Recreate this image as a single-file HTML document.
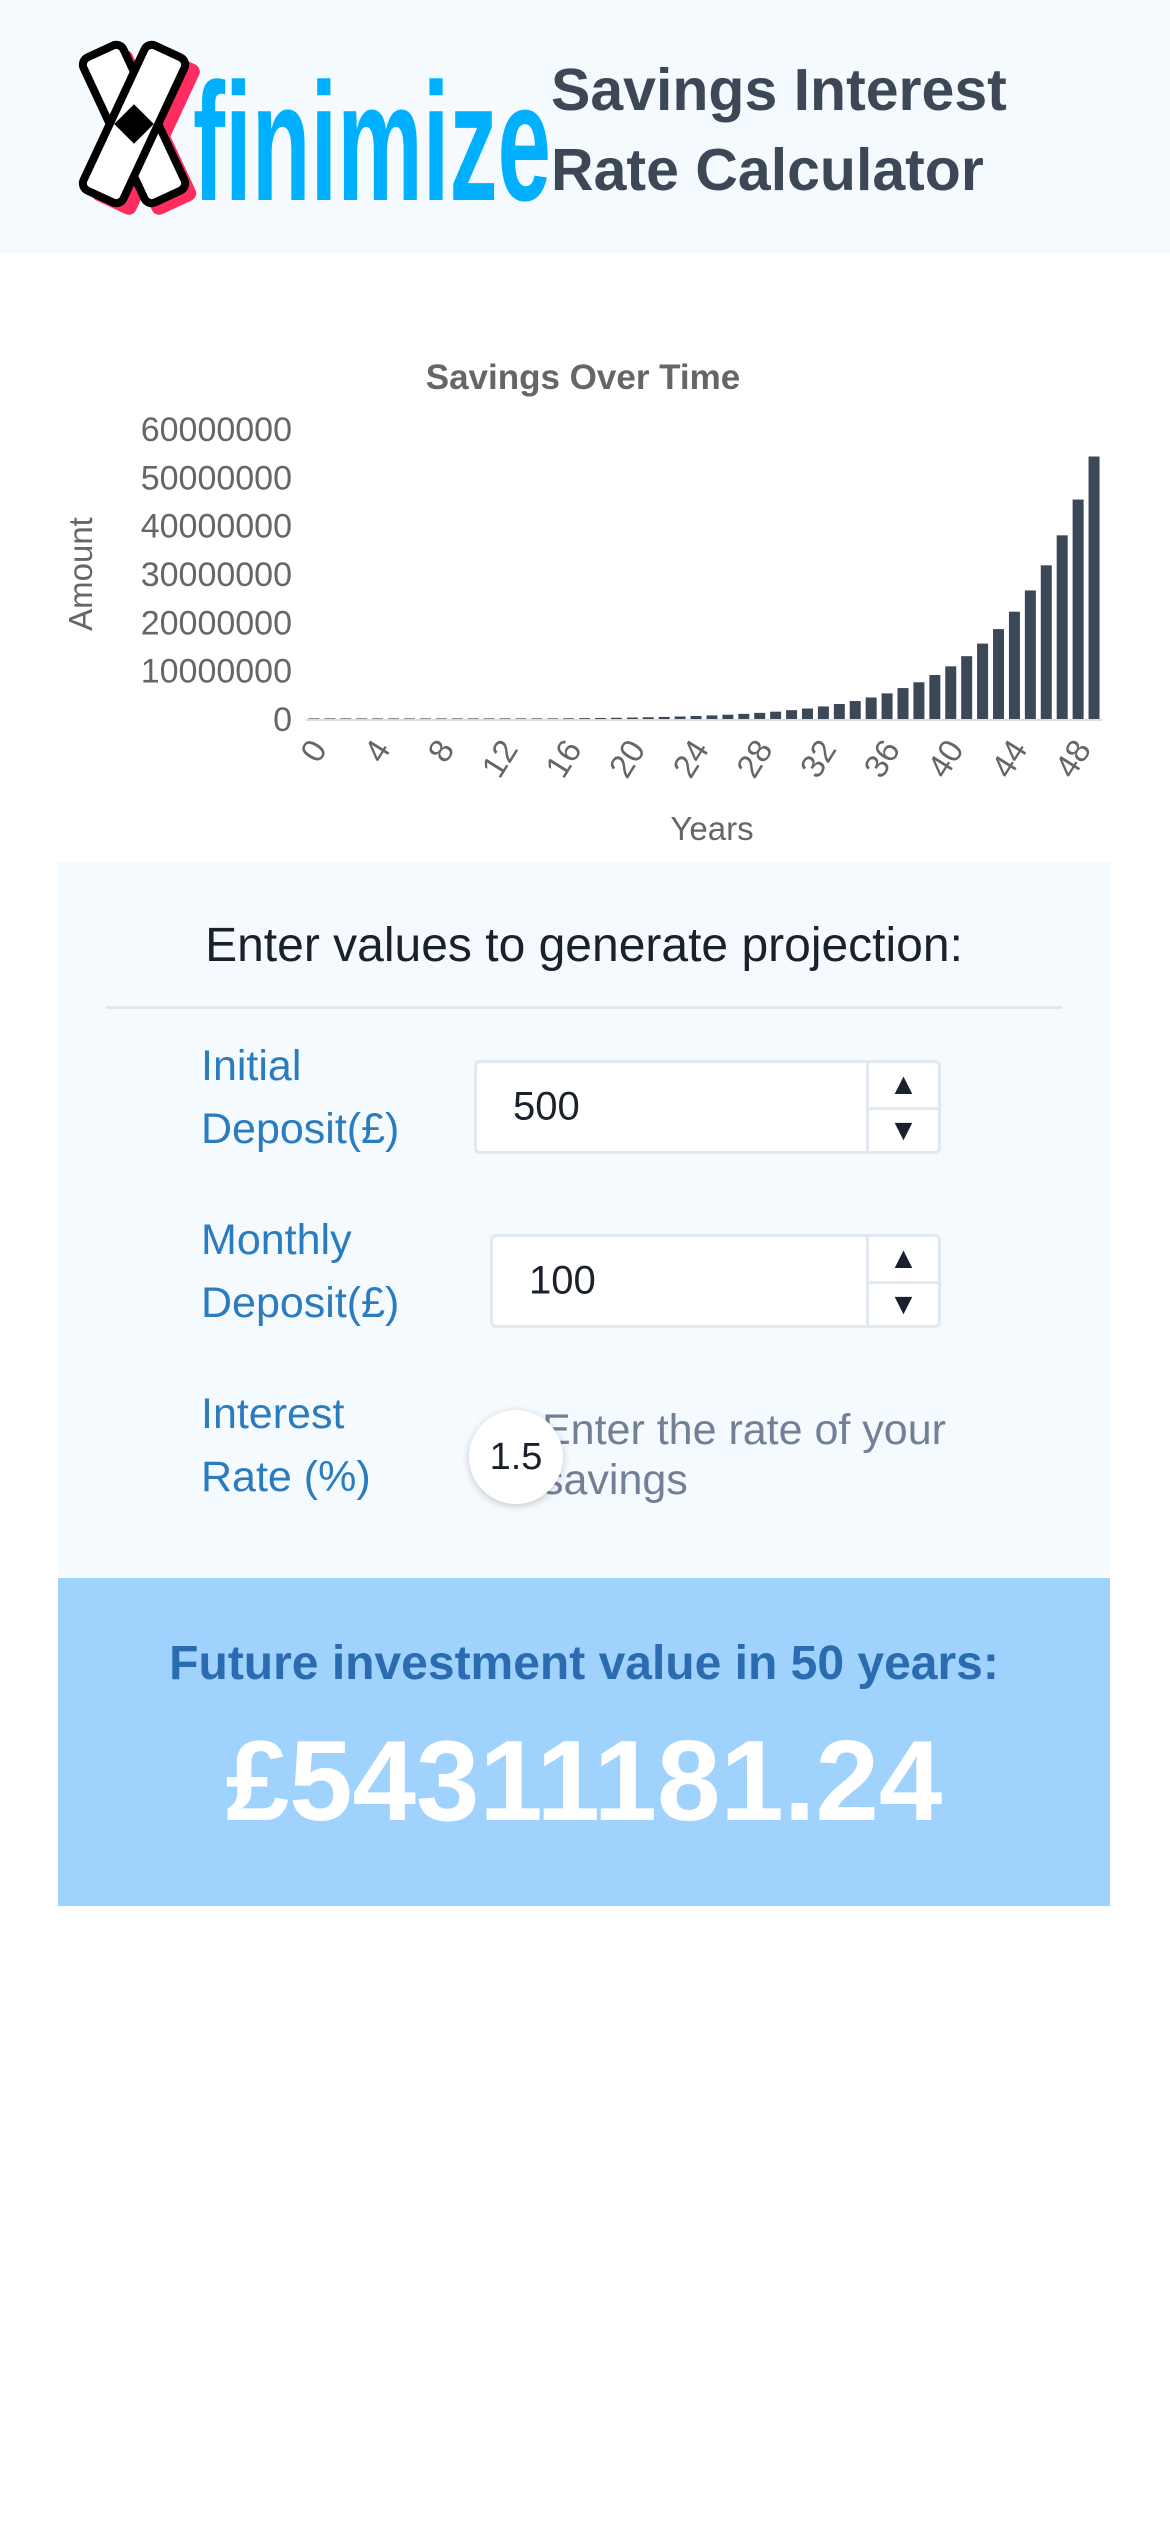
<!DOCTYPE html>
<html><head><meta charset="utf-8"><style>
*{margin:0;padding:0;box-sizing:border-box}
body{width:1170px;height:2532px;background:#fff;font-family:"Liberation Sans",sans-serif;position:relative;overflow:hidden}
.abs{position:absolute}
.lbl{position:absolute;left:201px;color:#2b7bbf;font-size:43px;line-height:63px}
.inp{position:absolute;background:#fff;border:3px solid #e2e8f0;border-radius:6px}
.inp span{position:absolute;top:50%;transform:translateY(-50%);font-size:40px;color:#1a202c}
.spin{position:absolute;right:0;top:0;bottom:0;width:72px;border-left:3px solid #e2e8f0}
.spin div{position:absolute;left:0;right:0;height:50%;display:flex;align-items:center;justify-content:center;font-size:30px;color:#1a202c}
.spin .dn{top:50%;border-top:3px solid #e2e8f0}
</style></head><body>
<div class="abs" style="left:0;top:0;width:1170px;height:253px;background:#f5faff">
<svg class="abs" style="left:60px;top:40px" width="500" height="175" viewBox="0 0 500 175">
<g transform="translate(12,10)">
<rect x="46" y="0" width="48" height="165" rx="8" transform="rotate(-25 70 82)" fill="#ff2d5f"/>
<rect x="50" y="0" width="48" height="165" rx="8" transform="rotate(25 74 82)" fill="#ff2d5f"/>
<rect x="40" y="-6" width="44" height="160" rx="8" transform="rotate(-25 62 74)" fill="#fff" stroke="#000" stroke-width="8"/>
<rect x="40" y="-6" width="44" height="160" rx="8" transform="rotate(25 62 74)" fill="#fff" stroke="#000" stroke-width="8"/>
<rect x="48" y="60" width="28" height="28" fill="#000" transform="rotate(45 62 74)"/>
</g>
<text x="133" y="160" font-family="Liberation Sans" font-weight="bold" font-size="168" fill="#00b0ff" textLength="358" lengthAdjust="spacingAndGlyphs">finimize</text>
</svg>
<div class="abs" style="left:551px;top:50px;font-size:59px;font-weight:bold;color:#3c4856;line-height:80px">Savings Interest<br>Rate Calculator</div>
</div>

<svg class="abs" id="chart" style="left:0;top:330px" width="1170" height="530"></svg>

<div class="abs" style="left:58px;top:862px;width:1052px;height:716px;background:#f5faff">
<div class="abs" style="left:0;width:1052px;top:56px;text-align:center;font-size:48px;color:#1a202c">Enter values to generate projection:</div>
<div class="abs" style="left:48px;width:956px;top:144px;height:3px;background:#e2e8f0"></div>
</div>
<div class="lbl" style="top:1035px">Initial<br>Deposit(£)</div>
<div class="inp" style="left:474px;top:1060px;width:467px;height:94px"><span style="left:36px">500</span>
<div class="spin"><div>▲</div><div class="dn">▼</div></div></div>
<div class="lbl" style="top:1209px">Monthly<br>Deposit(£)</div>
<div class="inp" style="left:490px;top:1234px;width:451px;height:94px"><span style="left:36px">100</span>
<div class="spin"><div>▲</div><div class="dn">▼</div></div></div>
<div class="lbl" style="top:1383px">Interest<br>Rate (%)</div>
<div class="abs" style="left:542px;top:1405px;font-size:43px;line-height:50px;color:#718096">Enter the rate of your<br>savings</div>
<div class="abs" style="left:469px;top:1410px;width:94px;height:94px;border-radius:50%;background:#fff;box-shadow:0 2px 8px rgba(0,0,0,.2);display:flex;align-items:center;justify-content:center;font-size:38px;color:#1a202c">1.5</div>

<div class="abs" style="left:58px;top:1578px;width:1052px;height:328px;background:#9fd3fd;text-align:center">
<div class="abs" style="left:0;width:1052px;top:58px;font-size:48px;font-weight:bold;color:#2b6cb0">Future investment value in 50 years:</div>
<div class="abs" style="left:0;width:1052px;top:138px;font-size:114px;font-weight:bold;color:#fff">£54311181.24</div>
</div>

<script>
const years = Array.from({length:50},(_,i)=>i);
const amounts = [8000,10000,12000,14000,17000,20000,24000,29000,35000,42000,50000,60000,72000,86000,103000,123000,147000,176000,210000,250000,300000,360000,430000,520000,620000,740000,890000,1060000,1270000,1520000,1820000,2170000,2600000,3110000,3720000,4450000,5300000,6400000,7600000,9100000,10900000,13000000,15600000,18600000,22200000,26600000,31800000,38000000,45400000,54311181];
const yTicks = [0,10000000,20000000,30000000,40000000,50000000,60000000];
const xTickLabels = years.filter(y=>y%4===0);
const NS='http://www.w3.org/2000/svg';
const svg=document.getElementById('chart');
const L=306,R=1102,B=389,T=99,yMax=60000000;
const slot=(R-L)/years.length;
const xs=i=>L+slot*i+slot/2;
const ys=v=>B-(v/yMax)*(B-T);
function mk(tag,attrs){const e=document.createElementNS(NS,tag);for(const k in attrs)e.setAttribute(k,attrs[k]);svg.appendChild(e);return e;}
let t=mk('text',{x:583,y:59,'text-anchor':'middle','font-size':35,'font-weight':'bold',fill:'#666'});t.textContent='Savings Over Time';


yTicks.forEach(v=>{const e=mk('text',{x:292,y:ys(v)+12,'text-anchor':'end','font-size':34,fill:'#666'});e.textContent=v;

});
amounts.forEach((v,i)=>{const h=Math.max(B-ys(v),0.6);const r=mk('rect',{x:xs(i)-5.5,y:B-h,width:11,height:h,fill:'#3c4858'});

});
const ax=mk('line',{x1:L,x2:R,y1:B+1,y2:B+1,stroke:'#ddd','stroke-width':2});


xTickLabels.forEach(y=>{const x=xs(y)+14,yy=B+30;const e=mk('text',{x:x,y:yy,'text-anchor':'end','font-size':33,fill:'#666',transform:`rotate(-58 ${x} ${yy})`});e.textContent=y;

});
const xt=mk('text',{x:712,y:510,'text-anchor':'middle','font-size':33,fill:'#666'});xt.textContent='Years';


const yt=mk('text',{x:92,y:244,'text-anchor':'middle','font-size':33,fill:'#666',transform:'rotate(-90 92 244)'});yt.textContent='Amount';


</script>
</body></html>
